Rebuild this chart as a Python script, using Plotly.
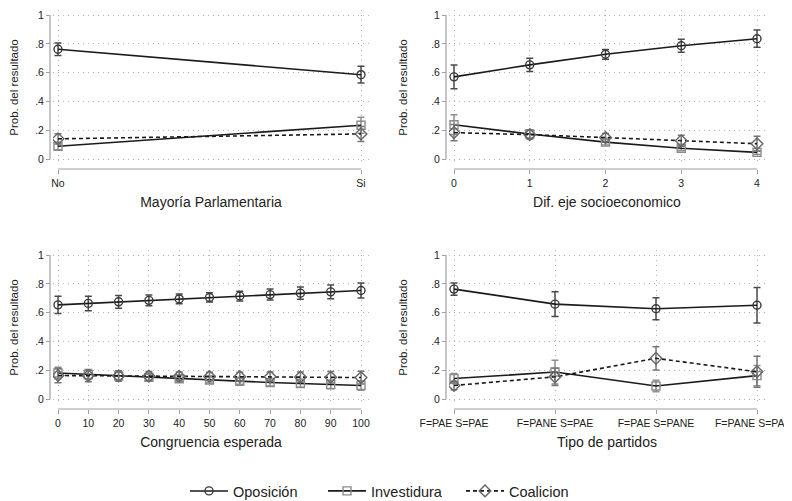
import plotly.graph_objects as go

# The page body adds an 8px margin, so the figure is drawn 8px in from the window corner.
OFF = 8
FW, FH = 784, 493

series_names = ["Oposición", "Investidura", "Coalicion"]

# Panel 1: Mayoría Parlamentaria
mayoria_labels = ["No", "Si"]
mayoria_x = [0, 1]
mayoria_opos = [0.763, 0.587]
mayoria_opos_ci = [0.043, 0.058]
mayoria_inv = [0.092, 0.237]
mayoria_inv_ci = [0.025, 0.055]
mayoria_coal = [0.143, 0.177]
mayoria_coal_ci = [0.036, 0.052]

# Panel 2: Dif. eje socioeconomico
dif_labels = ["0", "1", "2", "3", "4"]
dif_x = [0, 1, 2, 3, 4]
dif_opos = [0.572, 0.655, 0.728, 0.787, 0.836]
dif_opos_ci = [0.082, 0.046, 0.034, 0.045, 0.060]
dif_inv = [0.241, 0.176, 0.120, 0.078, 0.049]
dif_inv_ci = [0.068, 0.030, 0.020, 0.016, 0.014]
dif_coal = [0.186, 0.172, 0.152, 0.130, 0.109]
dif_coal_ci = [0.056, 0.030, 0.028, 0.038, 0.052]

# Panel 3: Congruencia esperada
cong_labels = ["0", "10", "20", "30", "40", "50", "60", "70", "80", "90", "100"]
cong_x = [0, 10, 20, 30, 40, 50, 60, 70, 80, 90, 100]
cong_opos = [0.655, 0.665, 0.676, 0.686, 0.696, 0.706, 0.716, 0.726, 0.736, 0.745, 0.754]
cong_opos_ci = [0.060, 0.050, 0.044, 0.038, 0.034, 0.032, 0.034, 0.038, 0.042, 0.047, 0.052]
cong_inv = [0.183, 0.173, 0.163, 0.153, 0.144, 0.135, 0.126, 0.118, 0.111, 0.104, 0.097]
cong_inv_ci = [0.040, 0.032, 0.026, 0.022, 0.020, 0.020, 0.021, 0.024, 0.027, 0.030, 0.033]
cong_coal = [0.166, 0.165, 0.163, 0.162, 0.161, 0.159, 0.158, 0.157, 0.155, 0.154, 0.152]
cong_coal_ci = [0.050, 0.042, 0.036, 0.032, 0.030, 0.030, 0.031, 0.033, 0.036, 0.040, 0.044]

# Panel 4: Tipo de partidos
tipo_labels = ["F=PAE S=PAE", "F=PANE S=PAE", "F=PAE S=PANE", "F=PANE S=PANE"]
tipo_x = [0, 1, 2, 3]
tipo_opos = [0.764, 0.660, 0.628, 0.652]
tipo_opos_ci = [0.042, 0.085, 0.076, 0.123]
tipo_inv = [0.145, 0.190, 0.093, 0.165]
tipo_inv_ci = [0.035, 0.082, 0.040, 0.070]
tipo_coal = [0.097, 0.157, 0.285, 0.192]
tipo_coal_ci = [0.030, 0.060, 0.080, 0.108]

y_ticks = [0, 0.2, 0.4, 0.6, 0.8, 1]
y_ticktext = ["0", ".2", ".4", ".6", ".8", "1"]
y_title = "Prob. del resultado"


def px2x(px):
    return (px - OFF) / FW


def px2y(py):
    return 1 - (py - OFF) / FH


panels = [
    dict(title="Mayoría Parlamentaria", x=mayoria_x, labels=mayoria_labels,
         data=[(mayoria_opos, mayoria_opos_ci), (mayoria_inv, mayoria_inv_ci), (mayoria_coal, mayoria_coal_ci)],
         ax_px=50, y1_px=15, y0_px=159.5),
    dict(title="Dif. eje socioeconomico", x=dif_x, labels=dif_labels,
         data=[(dif_opos, dif_opos_ci), (dif_inv, dif_inv_ci), (dif_coal, dif_coal_ci)],
         ax_px=446, y1_px=15, y0_px=159.5),
    dict(title="Congruencia esperada", x=cong_x, labels=cong_labels,
         data=[(cong_opos, cong_opos_ci), (cong_inv, cong_inv_ci), (cong_coal, cong_coal_ci)],
         ax_px=50, y1_px=255, y0_px=399.5),
    dict(title="Tipo de partidos", x=tipo_x, labels=tipo_labels,
         data=[(tipo_opos, tipo_opos_ci), (tipo_inv, tipo_inv_ci), (tipo_coal, tipo_coal_ci)],
         ax_px=446, y1_px=255, y0_px=399.5),
]

styles = [
    dict(symbol="circle-open", size=8, mcolor="#3a3a3a", ecolor="#4a4a4a", dash="solid"),
    dict(symbol="square-open", size=8, mcolor="#8a8a8a", ecolor="#8f8f8f", dash="solid"),
    dict(symbol="diamond-open", size=9, mcolor="#666666", ecolor="#777777", dash="4px,3px"),
]

FONT = "Liberation Sans, Arial, sans-serif"
AXCOL = "#a0a0a0"
GRIDCOL = "#b4b4b4"
TXT = "#222222"

fig = go.Figure()
shapes = []
layout_axes = {}

for i, p in enumerate(panels):
    n = i + 1
    xs = "" if n == 1 else str(n)
    A = p["ax_px"]
    data_l, data_r = A + 8, A + 311
    grid_l, grid_r = A + 3, A + 319
    y1, y0 = p["y1_px"], p["y0_px"]
    grid_t, grid_b = y1 - 5, y0 + 5.5
    xline_px = y0 + 9.5

    xmin, xmax = min(p["x"]), max(p["x"])
    ppu_x = (data_r - data_l) / (xmax - xmin)
    xr = [xmin - (data_l - grid_l) / ppu_x, xmax + (grid_r - data_r) / ppu_x]
    ppu_y = (y0 - y1) / 1.0
    yr = [0 - (grid_b - y0) / ppu_y, 1 + (y1 - grid_t) / ppu_y]

    for k, (vals, ci) in enumerate(p["data"]):
        st = styles[k]
        fig.add_trace(go.Scatter(
            x=p["x"], y=vals, mode="lines+markers", name=series_names[k],
            legendgroup=series_names[k], showlegend=(i == 0),
            xaxis="x" + xs, yaxis="y" + xs,
            line=dict(color="#1a1a1a", width=1.6, dash=st["dash"]),
            marker=dict(symbol=st["symbol"], size=st["size"],
                        color=st["mcolor"], line=dict(color=st["mcolor"], width=1.4)),
            error_y=dict(type="data", array=ci, color=st["ecolor"], thickness=1.5, width=3.5),
            hoverinfo="skip",
        ))

    layout_axes["xaxis" + xs] = dict(
        domain=[px2x(grid_l), px2x(grid_r)], range=xr, anchor="free",
        position=px2y(xline_px),
        tickvals=p["x"], ticktext=p["labels"], ticks="outside", ticklen=4,
        tickcolor=AXCOL, tickwidth=1, showline=False, zeroline=False,
        showgrid=True, gridcolor=GRIDCOL, griddash="1px,4px", gridwidth=1,
        tickfont=dict(size=10.5, color=TXT, family=FONT),
        ticklabeloverflow="allow",
        title=dict(text=p["title"], font=dict(size=14, color=TXT, family=FONT), standoff=9),
        fixedrange=True,
    )
    layout_axes["yaxis" + xs] = dict(
        domain=[px2y(grid_b), px2y(grid_t)], range=yr, anchor="free",
        position=px2x(A),
        tickvals=y_ticks, ticktext=y_ticktext, ticks="outside", ticklen=4,
        tickcolor=AXCOL, tickwidth=1, showline=False, zeroline=False,
        showgrid=True, gridcolor=GRIDCOL, griddash="1px,4px", gridwidth=1,
        tickfont=dict(size=10.5, color=TXT, family=FONT),
        ticklabeloverflow="allow",
        title=dict(text=y_title, font=dict(size=11.5, color=TXT, family=FONT), standoff=20),
        fixedrange=True,
    )
    # axis lines spanning only the tick range (Stata style)
    shapes.append(dict(type="line", xref="paper", yref="y" + xs,
                       x0=px2x(A), x1=px2x(A), y0=0, y1=1,
                       line=dict(color=AXCOL, width=1.2)))
    shapes.append(dict(type="line", xref="x" + xs, yref="paper",
                       x0=xmin, x1=xmax, y0=px2y(xline_px), y1=px2y(xline_px),
                       line=dict(color=AXCOL, width=1.2)))

fig.update_layout(
    width=FW, height=FH,
    margin=dict(l=0, r=0, t=0, b=0, autoexpand=False),
    paper_bgcolor="white", plot_bgcolor="white",
    font=dict(family=FONT, color=TXT),
    shapes=shapes,
    showlegend=True,
    legend=dict(orientation="h", x=px2x(185), xanchor="left", y=px2y(491), yanchor="middle",
                itemwidth=38, entrywidth=85, entrywidthmode="pixels",
                font=dict(size=14.5, color=TXT, family=FONT), bgcolor="rgba(0,0,0,0)"),
    **layout_axes,
)

fig.write_html("out.html")
